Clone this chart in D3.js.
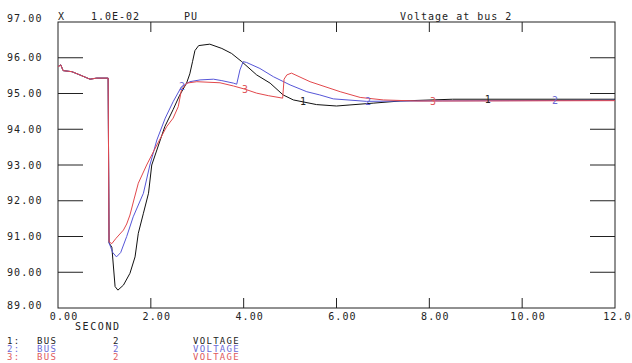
<!DOCTYPE html>
<html>
<head>
<meta charset="utf-8">
<script src="https://cdn.jsdelivr.net/npm/d3@7"></script>
<style>
  body { margin: 0; background: #fff; }
  text { font-family: "DejaVu Sans Mono", monospace; fill: #222; }
</style>
</head>
<body>
<div id="chart"></div>
<script>
// pre-fault part shared by all three runs
const preTime = [0, 0.06, 0.11, 0.30, 0.47, 0.69, 0.83, 1.06, 1.08];
const preVolt = [95.75, 95.80, 95.64, 95.61, 95.52, 95.40, 95.43, 95.43, 95.43];

// run 1 (black)
const time1 = [1.10, 1.16, 1.23, 1.29, 1.41, 1.55, 1.66, 1.73, 1.84, 1.95, 2.02, 2.30, 2.48, 2.62, 2.77, 2.84, 2.90, 2.95,
  3.03, 3.27, 3.53, 3.74, 3.96, 4.28, 4.57, 4.85, 5.07, 5.57, 6.00, 6.29, 6.79, 7.37, 8.50, 12.0];
const volt1 = [90.82, 90.70, 89.60, 89.50, 89.64, 89.97, 90.43, 91.09, 91.65, 92.21, 93.00, 94.07, 94.55, 94.95, 95.29, 95.55, 95.90, 96.20,
  96.34, 96.38, 96.26, 96.12, 95.89, 95.52, 95.29, 94.96, 94.82, 94.69, 94.65, 94.68, 94.73, 94.79, 94.84, 94.84];

// run 2 (blue)
const time2 = [1.10, 1.18, 1.26, 1.35, 1.48, 1.62, 1.84, 1.98, 2.13, 2.31, 2.48, 2.66, 2.84, 3.06, 3.35, 3.53, 3.78, 3.85,
  3.92, 3.99, 4.06, 4.35, 4.64, 5.00, 5.36, 5.64, 5.93, 6.65, 7.37, 12.0];
const volt2 = [90.82, 90.55, 90.43, 90.55, 91.00, 91.55, 92.21, 93.00, 93.70, 94.31, 94.77, 95.19, 95.33, 95.38, 95.40, 95.36, 95.29, 95.26,
  95.66, 95.89, 95.87, 95.70, 95.47, 95.24, 95.05, 94.96, 94.85, 94.78, 94.79, 94.81];

// run 3 (red)
const time3 = [1.10, 1.16, 1.25, 1.41, 1.48, 1.55, 1.64, 1.73, 1.91, 2.13, 2.34, 2.48, 2.59, 2.66, 2.77, 2.99, 3.49, 3.78,
  4.03, 4.28, 4.53, 4.84, 4.87, 4.93, 5.03, 5.43, 6.08, 6.51, 7.01, 7.73, 8.29, 12.0];
const volt3 = [90.85, 90.80, 90.95, 91.18, 91.35, 91.60, 92.05, 92.49, 93.00, 93.56, 94.07, 94.31, 94.63, 95.10, 95.29, 95.33, 95.30, 95.21,
  95.12, 95.01, 94.94, 94.87, 95.40, 95.52, 95.57, 95.33, 95.05, 94.89, 94.82, 94.79, 94.79, 94.80];

// where the curve numbers are written
const markTime1 = [5.28, 9.26];
const markTime2 = [2.67, 6.68, 10.71];
const markTime3 = [4.03, 8.08];

const xTicks = [0, 2, 4, 6, 8, 10, 12];
const yTicks = [89, 90, 91, 92, 93, 94, 95, 96, 97];

const legendRows = [
  {id: "1:", kind: "BUS", bus: "2", qty: "VOLTAGE"},
  {id: "2:", kind: "BUS", bus: "2", qty: "VOLTAGE"},
  {id: "3:", kind: "BUS", bus: "2", qty: "VOLTAGE"}
];

const lineColors = ["#111111", "#5656d8", "#e2484c"];
const textColors = ["#222222", "#6b6bd6", "#e05a5e"];

const W = 632, H = 363;
const margin = {top: 22, right: 17, bottom: 55, left: 58};
const width = W - margin.left - margin.right;
const height = H - margin.top - margin.bottom;

const svg = d3.select("#chart").append("svg")
  .attr("width", W).attr("height", H);

const g = svg.append("g")
  .attr("transform", "translate(" + margin.left + "," + margin.top + ")");

const x = d3.scaleLinear().domain([0, 12]).range([0, width]);
const y = d3.scaleLinear().domain([89, 97]).range([height, 0]);

// build the series
function build(t, v) {
  const pts = preTime.map((d, i) => ({t: d, v: preVolt[i]}));
  return pts.concat(t.map((d, i) => ({t: d, v: v[i]})));
}
const series = [build(time1, volt1), build(time2, volt2), build(time3, volt3)];
const marks = [markTime1, markTime2, markTime3];

// frame
g.append("rect")
  .attr("x", 0).attr("y", 0)
  .attr("width", width).attr("height", height)
  .attr("fill", "none").attr("stroke", "#222").attr("stroke-width", 1);

// ticks inside the frame
const innerX = xTicks.slice(1, -1);
const innerY = yTicks.slice(1, -1);
g.selectAll(".tb").data(innerX).join("line")
  .attr("x1", d => x(d)).attr("x2", d => x(d))
  .attr("y1", height).attr("y2", height - 10)
  .attr("stroke", "#222");
g.selectAll(".tt").data(innerX).join("line")
  .attr("x1", d => x(d)).attr("x2", d => x(d))
  .attr("y1", 0).attr("y2", 10)
  .attr("stroke", "#222");
g.selectAll(".tl").data(innerY).join("line")
  .attr("x1", 0).attr("x2", 25)
  .attr("y1", d => y(d)).attr("y2", d => y(d))
  .attr("stroke", "#222");
g.selectAll(".tr").data(innerY).join("line")
  .attr("x1", width - 25).attr("x2", width)
  .attr("y1", d => y(d)).attr("y2", d => y(d))
  .attr("stroke", "#222");

// tick labels
g.selectAll(".xl").data(xTicks).join("text")
  .attr("x", d => x(d) + 6).attr("y", height + 8)
  .attr("text-anchor", "middle").attr("dominant-baseline", "central")
  .attr("font-size", 10).attr("letter-spacing", 1.1)
  .text(d => d.toFixed(2));
g.selectAll(".yl").data(yTicks).join("text")
  .attr("x", -51).attr("y", d => y(d) + (d === 97 ? -4 : d === 89 ? -3 : 0))
  .attr("dominant-baseline", "central")
  .attr("font-size", 10).attr("letter-spacing", 1.1)
  .text(d => d.toFixed(2));

g.append("text")
  .attr("x", 17).attr("y", height + 18)
  .attr("dominant-baseline", "central")
  .attr("font-size", 10).attr("letter-spacing", 1.6)
  .text("SECOND");

// header
const header = [
  {x: 0, s: "X"},
  {x: 33, s: "1.0E-02"},
  {x: 126, s: "PU"},
  {x: 342, s: "Voltage at bus 2"}
];
g.selectAll(".hd").data(header).join("text")
  .attr("x", d => d.x).attr("y", -6)
  .attr("dominant-baseline", "central")
  .attr("font-size", 10).attr("letter-spacing", 1.0)
  .text(d => d.s);

// curves
const line = d3.line().x(d => x(d.t)).y(d => y(d.v));
g.selectAll(".curve").data(series).join("path")
  .attr("d", d => line(d))
  .attr("fill", "none")
  .attr("stroke", (d, i) => lineColors[i])
  .attr("stroke-width", 1);

// curve numbers
function valueAt(s, t) {
  const i = d3.bisector(d => d.t).left(s, t);
  if (i <= 0) return s[0].v;
  if (i >= s.length) return s[s.length - 1].v;
  const a = s[i - 1], b = s[i];
  return a.v + (b.v - a.v) * (t - a.t) / (b.t - a.t);
}
series.forEach((s, k) => {
  g.selectAll(".mk" + k).data(marks[k]).join("text")
    .attr("x", t => x(t)).attr("y", t => y(valueAt(s, t)))
    .attr("text-anchor", "middle").attr("dominant-baseline", "central")
    .attr("font-size", 10)
    .style("fill", textColors[k])
    .text(k + 1);
});

// legend
const leg = svg.append("g");
legendRows.forEach((r, i) => {
  const yy = 340.5 + i * 8.2;
  const cols = [{x: 7, s: r.id}, {x: 37, s: r.kind}, {x: 113, s: r.bus}, {x: 193, s: r.qty}];
  leg.selectAll(".lg" + i).data(cols).join("text")
    .attr("x", d => d.x).attr("y", yy)
    .attr("dominant-baseline", "central")
    .attr("font-size", 9).attr("letter-spacing", 1.3)
    .style("fill", textColors[i])
    .text(d => d.s);
});
</script>
</body>
</html>
